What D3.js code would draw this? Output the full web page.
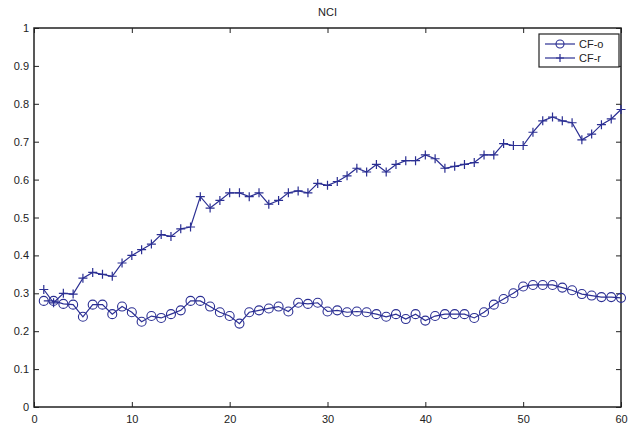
<!DOCTYPE html>
<html>
<head>
<meta charset="utf-8">
<script src="https://cdn.jsdelivr.net/npm/d3@7"></script>
<style>
  body { margin: 0; background: #fff; }
  text { font-family: "Liberation Sans", Arial, sans-serif; }
</style>
</head>
<body>
<svg id="chart" width="635" height="428"></svg>
<script>
const xValues = d3.range(1, 61);

const cfO = [0.280, 0.280, 0.272, 0.270, 0.238, 0.270, 0.270, 0.245, 0.265, 0.250,
             0.225, 0.240, 0.235, 0.245, 0.255, 0.280, 0.280, 0.265, 0.250, 0.240,
             0.220, 0.250, 0.255, 0.260, 0.265, 0.252, 0.275, 0.272, 0.275, 0.252,
             0.255, 0.250, 0.252, 0.250, 0.245, 0.238, 0.245, 0.232, 0.245, 0.228,
             0.240, 0.245, 0.245, 0.245, 0.235, 0.250, 0.270, 0.285, 0.300, 0.318,
             0.322, 0.322, 0.322, 0.315, 0.308, 0.298, 0.294, 0.290, 0.290, 0.288];

const cfR = [0.310, 0.275, 0.300, 0.298, 0.340, 0.355, 0.350, 0.345, 0.380, 0.400,
             0.415, 0.430, 0.455, 0.450, 0.470, 0.475, 0.555, 0.525, 0.545, 0.565,
             0.565, 0.555, 0.565, 0.535, 0.545, 0.565, 0.570, 0.565, 0.590, 0.585,
             0.595, 0.610, 0.630, 0.620, 0.640, 0.620, 0.640, 0.650, 0.650, 0.665,
             0.655, 0.630, 0.635, 0.640, 0.645, 0.665, 0.665, 0.695, 0.690, 0.690,
             0.725, 0.755, 0.765, 0.755, 0.750, 0.705, 0.720, 0.745, 0.760, 0.785];

const xTicks = [0, 10, 20, 30, 40, 50, 60];
const yTicks = [0, 0.1, 0.2, 0.3, 0.4, 0.5, 0.6, 0.7, 0.8, 0.9, 1];
const seriesNames = ["CF-o", "CF-r"];
const titleText = "NCI";

const svg = d3.select("#chart"),
      margin = {top: 28, right: 14, bottom: 21, left: 34},
      width = +svg.attr("width"),
      height = +svg.attr("height");

const lineColor = "#2b2f93";

const x = d3.scaleLinear().domain([0, 60]).range([margin.left, width - margin.right]);
const y = d3.scaleLinear().domain([0, 1]).range([height - margin.bottom, margin.top]);

// title
svg.append("text")
    .attr("x", (margin.left + width - margin.right) / 2)
    .attr("y", 16)
    .attr("text-anchor", "middle")
    .attr("font-size", 11)
    .attr("fill", "#222")
    .text(titleText);

// axes (MATLAB style: inward ticks on all four sides)
const tickLen = 5;
const axisStyle = g => {
    g.select(".domain").remove();
    g.selectAll(".tick line").attr("stroke", "#222");
    g.selectAll(".tick text").attr("fill", "#222").attr("font-size", 11)
        .attr("font-family", "Liberation Sans, Arial, sans-serif");
};

svg.append("g")
    .attr("transform", `translate(0,${y(0)})`)
    .call(d3.axisBottom(x).tickValues(xTicks).tickSize(-tickLen).tickPadding(6).tickFormat(d3.format("d")))
    .call(axisStyle)
    .call(g => g.selectAll(".tick text").attr("dy", "0.9em"));

svg.append("g")
    .attr("transform", `translate(0,${y(1)})`)
    .call(d3.axisTop(x).tickValues(xTicks).tickSize(-tickLen).tickFormat(""))
    .call(axisStyle);

svg.append("g")
    .attr("transform", `translate(${x(0)},0)`)
    .call(d3.axisLeft(y).tickValues(yTicks).tickSize(-tickLen).tickPadding(5).tickFormat(d => d === 0 || d === 1 ? d3.format("d")(d) : d3.format(".1f")(d)))
    .call(axisStyle);

svg.append("g")
    .attr("transform", `translate(${x(60)},0)`)
    .call(d3.axisRight(y).tickValues(yTicks).tickSize(-tickLen).tickFormat(""))
    .call(axisStyle);

// box
svg.append("rect")
    .attr("x", x(0))
    .attr("y", y(1))
    .attr("width", x(60) - x(0))
    .attr("height", y(0) - y(1))
    .attr("fill", "none")
    .attr("stroke", "#222")
    .attr("stroke-width", 1.5);

const line = d3.line()
    .x((d, i) => x(xValues[i]))
    .y(d => y(d));

// CF-o
svg.append("path")
    .datum(cfO)
    .attr("d", line)
    .attr("fill", "none")
    .attr("stroke", lineColor)
    .attr("stroke-width", 1.2);

svg.append("g").selectAll("circle")
    .data(cfO)
    .join("circle")
    .attr("cx", (d, i) => x(xValues[i]))
    .attr("cy", d => y(d))
    .attr("r", 4.5)
    .attr("fill", "none")
    .attr("stroke", lineColor)
    .attr("stroke-width", 1.1);

// CF-r
svg.append("path")
    .datum(cfR)
    .attr("d", line)
    .attr("fill", "none")
    .attr("stroke", lineColor)
    .attr("stroke-width", 1.2);

const plusPath = (cx, cy, s) => `M${cx - s},${cy}H${cx + s}M${cx},${cy - s}V${cy + s}`;

svg.append("g").selectAll("path")
    .data(cfR)
    .join("path")
    .attr("d", (d, i) => plusPath(x(xValues[i]), y(d), 4.5))
    .attr("fill", "none")
    .attr("stroke", lineColor)
    .attr("stroke-width", 1.2);

// legend
const legend = svg.append("g").attr("transform", "translate(539,34)");
legend.append("rect")
    .attr("width", 80)
    .attr("height", 33)
    .attr("fill", "#fff")
    .attr("stroke", "#222")
    .attr("stroke-width", 1.2);

seriesNames.forEach((name, i) => {
    const ly = 10 + i * 14;
    legend.append("line")
        .attr("x1", 6).attr("x2", 36)
        .attr("y1", ly).attr("y2", ly)
        .attr("stroke", lineColor)
        .attr("stroke-width", 1.2);
    if (i === 0) {
        legend.append("circle")
            .attr("cx", 21).attr("cy", ly).attr("r", 4)
            .attr("fill", "none").attr("stroke", lineColor).attr("stroke-width", 1.1);
    } else {
        legend.append("path")
            .attr("d", plusPath(21, ly, 4))
            .attr("stroke", lineColor).attr("stroke-width", 1.2);
    }
    legend.append("text")
        .attr("x", 40)
        .attr("y", ly)
        .attr("dy", "0.35em")
        .attr("font-size", 11)
        .attr("fill", "#222")
        .text(name);
});
</script>
</body>
</html>
